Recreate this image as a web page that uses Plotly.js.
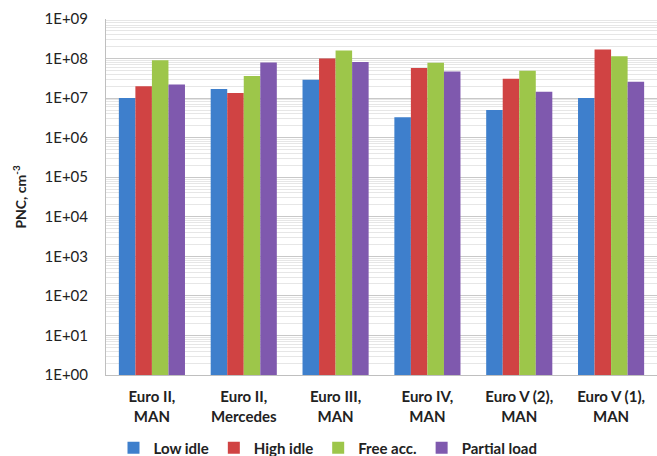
<!DOCTYPE html>
<html>
<head>
<meta charset="utf-8">
<script src="https://cdn.plot.ly/plotly-3.0.1.min.js"></script>
<style>html,body{margin:0;padding:0;background:#fff;}#chart{width:657px;height:456px;}</style>
</head>
<body>
<div id="chart"></div>
<script>
const categories = ["Euro II,<br>MAN", "Euro II,<br>Mercedes", "Euro III,<br>MAN", "Euro IV,<br>MAN", "Euro V (2),<br>MAN", "Euro V (1),<br>MAN"];
const seriesNames = ["Low idle", "High idle", "Free acc.", "Partial load"];
const lowIdle     = [1.0e7, 1.7e7, 2.9e7, 3.3e6, 5.0e6, 1.0e7];
const highIdle    = [2.0e7, 1.35e7, 1.0e8, 5.8e7, 3.1e7, 1.7e8];
const freeAcc     = [9.1e7, 3.6e7, 1.6e8, 7.8e7, 4.9e7, 1.15e8];
const partialLoad = [2.2e7, 8.0e7, 8.2e7, 4.7e7, 1.45e7, 2.6e7];
const tickValues = [1e0, 1e1, 1e2, 1e3, 1e4, 1e5, 1e6, 1e7, 1e8, 1e9];
const tickLabels = ["1E+00", "1E+01", "1E+02", "1E+03", "1E+04", "1E+05", "1E+06", "1E+07", "1E+08", "1E+09"];

const colors = ["#3E7FCC", "#D04343", "#9DC64A", "#7F59AE"];
const values = [lowIdle, highIdle, freeAcc, partialLoad];
const FONT = "Lato, 'Open Sans', sans-serif";

const traces = values.map((v, i) => ({
  type: "bar",
  name: seriesNames[i],
  x: categories,
  y: v,
  marker: {color: colors[i], line: {width: 0}},
  hoverinfo: "y+name"
}));

const layout = {
  width: 657, height: 456,
  margin: {l: 106, r: 0, t: 19, b: 81, autoexpand: false},
  paper_bgcolor: "#fff", plot_bgcolor: "#fff",
  barmode: "group",
  bargap: 0.28,
  bargroupgap: 0,
  font: {family: FONT, color: "#222", size: 14},
  xaxis: {
    type: "category",
    showgrid: false,
    showline: true, linecolor: "#bfbfbf", linewidth: 1,
    ticks: "", tickangle: 0,
    tickfont: {family: FONT, size: 15, weight: "bold", color: "#222"},
    ticklabelstandoff: 8,
    automargin: false
  },
  yaxis: {
    type: "log",
    range: [0, 9],
    tickvals: tickValues, ticktext: tickLabels,
    showline: true, linecolor: "#bfbfbf", linewidth: 1,
    showgrid: true, gridcolor: "#c8c8c8", gridwidth: 1,
    zeroline: false,
    ticks: "", ticklabelstandoff: 14,
    tickfont: {family: FONT, size: 15, color: "#222"},
    minor: {showgrid: true, gridcolor: "#e6e6e6", gridwidth: 1, dtick: "D1", ticks: ""},
    title: {text: "<b>PNC, cm<sup>-3</sup></b>", font: {family: FONT, size: 14, color: "#222"}, standoff: 14},
    automargin: false
  },
  legend: {
    orientation: "h",
    x: 328 / 657, xref: "container", xanchor: "center",
    y: 8 / 456, yref: "container", yanchor: "middle",
    font: {family: FONT, size: 15, weight: "bold", color: "#222"},
    itemwidth: 30,
    traceorder: "normal",
    tracegroupgap: 0
  },
  showlegend: true
};

Plotly.newPlot("chart", traces, layout, {displayModeBar: false, staticPlot: true});
</script>
</body>
</html>
